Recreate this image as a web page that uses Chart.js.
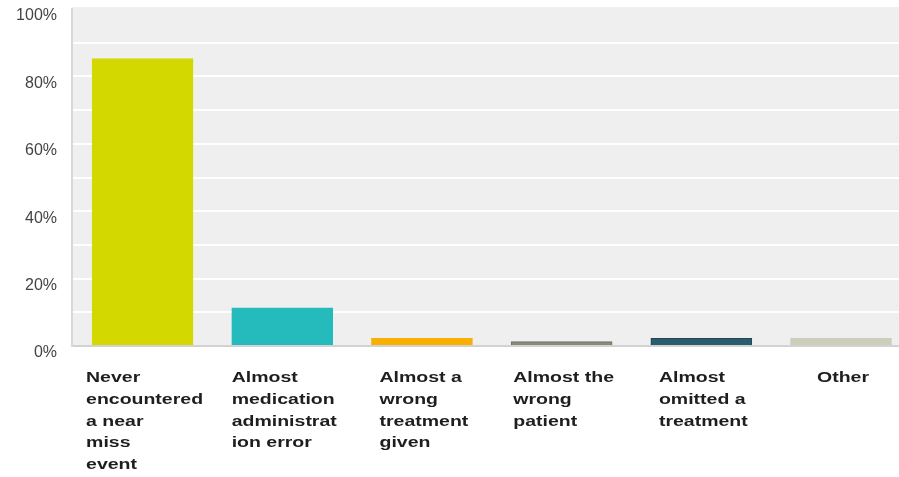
<!DOCTYPE html>
<html>
<head>
<meta charset="utf-8">
<title>Near miss events</title>
<script src="https://cdn.jsdelivr.net/npm/chart.js@4"></script>
<style>
    html, body { margin: 0; padding: 0; background: #ffffff; }
    #wrap { width: 899px; height: 477px; }
</style>
</head>
<body>
<div id="wrap"><canvas id="nearMissChart" width="899" height="477"></canvas></div>
<script>
// Categories (each one already split into the lines shown under the bar)
var categories = [
    ["Never", "encountered", "a near", "miss", "event"],
    ["Almost", "medication", "administrat", "ion error"],
    ["Almost a", "wrong", "treatment", "given"],
    ["Almost the", "wrong", "patient"],
    ["Almost", "omitted a", "treatment"],
    ["Other"]
];
// Share of responses, in percent
var percentages = [85.3, 11.3, 2.3, 1.3, 2.3, 2.3];
var yTickLabels = [0, 20, 40, 60, 80, 100];

var barColors = ["#d2d800", "#25bbbd", "#f8af00", "#898b79", "#2b5c6e", "#cdcdbc"];
var barBorders = ["#d2d800", "#25bbbd", "#f8af00", "#707262", "#1f4655", "#cdcdbc"];

// Grey plot background
var plotBackground = {
    id: "plotBackground",
    beforeDraw: function(chart) {
        var ctx = chart.ctx, a = chart.chartArea;
        ctx.save();
        ctx.fillStyle = "#efefef";
        ctx.fillRect(a.left, a.top - 2, a.right - a.left, a.bottom - a.top + 2);
        ctx.restore();
    }
};

// Category labels: each block centred under its bar, lines left aligned,
// glyphs stretched sideways a little
var stretch = 1.3;
var categoryLabels = {
    id: "categoryLabels",
    afterDraw: function(chart) {
        var ctx = chart.ctx, xScale = chart.scales.x;
        ctx.save();
        ctx.font = "bold 15px 'Liberation Sans', Arial, sans-serif";
        ctx.fillStyle = "#1e1e1e";
        ctx.textAlign = "left";
        ctx.textBaseline = "middle";
        categories.forEach(function(lines, i) {
            var widest = 0;
            lines.forEach(function(line) {
                widest = Math.max(widest, ctx.measureText(line).width * stretch);
            });
            var cx = xScale.getPixelForValue(i);
            var left = cx - widest / 2 + 2;
            lines.forEach(function(line, j) {
                ctx.save();
                ctx.translate(left, chart.chartArea.bottom + 32 + j * 21.7);
                ctx.scale(stretch, 1);
                ctx.fillText(line, 0, 0);
                ctx.restore();
            });
        });
        ctx.restore();
    }
};

var ctx = document.getElementById("nearMissChart").getContext("2d");
new Chart(ctx, {
    type: "bar",
    data: {
        datasets: [{
            data: percentages.map(function(v, i) { return { x: i, y: v }; }),
            backgroundColor: barColors,
            borderColor: barBorders,
            borderWidth: 1,
            barThickness: 101
        }]
    },
    options: {
        responsive: false,
        animation: false,
        layout: { padding: { top: 9, left: 0, right: 0, bottom: 0 } },
        plugins: {
            legend: { display: false },
            tooltip: { enabled: false }
        },
        scales: {
            x: {
                type: "linear",
                offset: false,
                min: -0.505,
                max: 5.415,
                ticks: { display: false },
                grid: { display: false },
                border: { color: "#d2d2d2", width: 2 },
                afterFit: function(scale) { scale.height = 131; }
            },
            y: {
                min: 0,
                max: 100,
                ticks: {
                    stepSize: 10,
                    padding: 15,
                    labelOffset: 7,
                    color: "#444444",
                    font: { family: "'Liberation Sans', Arial, sans-serif", size: 16 },
                    callback: function(v) {
                        return yTickLabels.indexOf(v) >= 0 ? v + "%" : "";
                    }
                },
                grid: {
                    drawTicks: false,
                    lineWidth: 2,
                    color: function(c) {
                        return c.tick && c.tick.value === 100 ? "rgba(0,0,0,0)" : "#ffffff";
                    }
                },
                border: { color: "#d8d8d8", width: 2 },
                afterFit: function(scale) {
                    scale.width = 72;
                    scale.paddingTop = 0;
                    scale.paddingBottom = 0;
                }
            }
        }
    },
    plugins: [plotBackground, categoryLabels]
});
</script>
</body>
</html>
